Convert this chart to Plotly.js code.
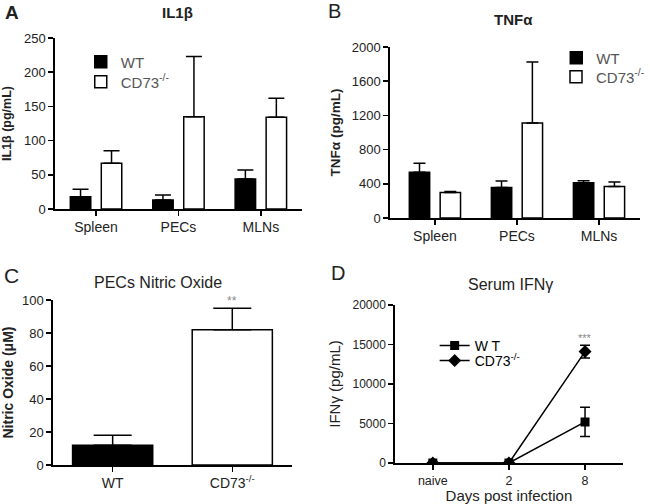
<!DOCTYPE html>
<html><head><meta charset="utf-8">
<script src="https://cdn.plot.ly/plotly-3.0.1.min.js"></script>
<style>html,body{margin:0;padding:0;background:#fff}#chart{width:650px;height:504px}</style>
</head><body><div id="chart"></div>
<script>
// ---- data ----
const tissues = ['Spleen', 'PECs', 'MLNs'];
const il1bWT = [18, 13, 44];
const il1bWTErr = [11, 7.5, 13];
const il1bKO = [67, 135, 134];
const il1bKOErr = [18, 88, 28];
const tnfWT = [534, 358, 412];
const tnfWTErr = [106, 74, 23];
const tnfKO = [299, 1111, 369];
const tnfKOErr = [12, 714, 51];
const noGroups = ['WT', 'CD73<sup>-/-</sup>'];
const noVals = [12, 82];
const noErr = [6, 13];
const days = ['naive', '2', '8'];
const ifnWT = [0, 0, 5200];
const ifnWTErr = [0, 0, 1850];
const ifnKO = [0, 0, 14100];
const ifnKOErr = [0, 0, 800];
const seriesNames = ['WT', 'CD73<sup>-/-</sup>'];
const dWTName = 'W T';

const W = 650, H = 504;
const px = v => v / W;
const py = v => 1 - v / H;
const FONT = 'Liberation Sans, Arial, sans-serif';

const errStyle = (arr, w, sym) => ({
  type: 'data', array: arr, arrayminus: sym ? arr : arr.map(() => 0), symmetric: !!sym,
  color: '#000', thickness: 1.5, width: w, visible: true
});

const traces = [
  // Panel A
  {type: 'bar', x: tissues, y: il1bWT, name: seriesNames[0], xaxis: 'x', yaxis: 'y', legend: 'legend',
   marker: {color: '#000', line: {color: '#000', width: 1.5}}, error_y: errStyle(il1bWTErr, 8)},
  {type: 'bar', x: tissues, y: il1bKO, name: seriesNames[1], xaxis: 'x', yaxis: 'y', legend: 'legend2',
   marker: {color: '#fff', line: {color: '#000', width: 1.5}}, error_y: errStyle(il1bKOErr, 8)},
  // Panel B
  {type: 'bar', x: tissues, y: tnfWT, name: seriesNames[0], xaxis: 'x2', yaxis: 'y2', legend: 'legend3',
   marker: {color: '#000', line: {color: '#000', width: 1.5}}, error_y: errStyle(tnfWTErr, 6)},
  {type: 'bar', x: tissues, y: tnfKO, name: seriesNames[1], xaxis: 'x2', yaxis: 'y2', legend: 'legend4',
   marker: {color: '#fff', line: {color: '#000', width: 1.5}}, error_y: errStyle(tnfKOErr, 6)},
  // Panel C
  {type: 'bar', x: noGroups, y: noVals, xaxis: 'x3', yaxis: 'y3', showlegend: false, width: 0.67,
   marker: {color: ['#000', '#fff'], line: {color: '#000', width: 1.5}}, error_y: errStyle(noErr, 19)},
  // Panel D
  {type: 'scatter', mode: 'lines+markers', x: days, y: ifnWT, name: dWTName, xaxis: 'x4', yaxis: 'y4', legend: 'legend5',
   line: {color: '#000', width: 1.5}, marker: {symbol: 'square', size: 9, color: '#000'},
   error_y: errStyle(ifnWTErr, 5, true)},
  {type: 'scatter', mode: 'lines+markers', x: days, y: ifnKO, name: seriesNames[1], xaxis: 'x4', yaxis: 'y4', legend: 'legend6',
   line: {color: '#000', width: 1.5}, marker: {symbol: 'diamond', size: 10, color: '#000'},
   error_y: errStyle(ifnKOErr, 5, true)}
];

const ax = (extra) => Object.assign({
  showline: true, linecolor: '#000', linewidth: 1.5, ticks: 'outside', ticklen: 5, tickwidth: 1.5,
  tickcolor: '#000', showgrid: false, zeroline: false, fixedrange: true, automargin: false,
  tickfont: {size: 13, color: '#222', family: FONT}
}, extra);

const leg = (x, y, size, color) => ({
  x: px(x), y: py(y), xanchor: 'left', yanchor: 'middle', bgcolor: 'rgba(0,0,0,0)',
  borderwidth: 0, font: {size: size, color: color, family: FONT}, itemclick: false, itemdoubleclick: false
});

const ann = (text, x, y, size, opts) => Object.assign({
  text: text, x: px(x), y: py(y), xref: 'paper', yref: 'paper', showarrow: false,
  xanchor: 'center', yanchor: 'middle', font: {size: size, color: '#222', family: FONT}
}, opts || {});

const layout = {
  width: W, height: H, autosize: false,
  margin: {l: 0, r: 0, t: 0, b: 0},
  paper_bgcolor: '#fff', plot_bgcolor: '#fff',
  font: {family: FONT, color: '#222'},
  barmode: 'group', bargap: 0.248, bargroupgap: 0.34,
  xaxis: ax({domain: [px(55), px(303)], anchor: 'y', type: 'category', range: [-0.5, 2.5], tickfont: {size: 14, color: '#222', family: FONT}}),
  yaxis: ax({domain: [py(209), py(38)], anchor: 'x', range: [0, 250], dtick: 50,
    title: {text: '<b>IL1β (pg/mL)</b>', standoff: 9, font: {size: 12.5, color: '#222', family: FONT}}}),
  xaxis2: ax({domain: [px(391), px(642)], anchor: 'y2', type: 'category', range: [-0.55, 2.5], tickfont: {size: 14, color: '#222', family: FONT}}),
  yaxis2: ax({domain: [py(218), py(47)], anchor: 'x2', range: [0, 2000], dtick: 400, tickformat: 'd', tickfont: {size: 13, color: '#222', family: FONT},
    title: {text: '<b>TNFα (pg/mL)</b>', standoff: 8, font: {size: 13.5, color: '#222', family: FONT}}}),
  xaxis3: ax({domain: [px(53), px(293)], anchor: 'y3', type: 'category', range: [-0.5, 1.5], tickfont: {size: 14, color: '#222', family: FONT}}),
  yaxis3: ax({domain: [py(465), py(300)], anchor: 'x3', range: [0, 100], dtick: 20, tickfont: {size: 13, color: '#222', family: FONT},
    title: {text: '<b>Nitric Oxide (μM)</b>', standoff: 5, font: {size: 14, color: '#222', family: FONT}}}),
  xaxis4: ax({domain: [px(396), px(625)], anchor: 'y4', type: 'category', range: [-0.5, 2.5], tickfont: {size: 12.5, color: '#222', family: FONT},
    title: {text: 'Days post infection', standoff: 10, font: {size: 15, color: '#222', family: FONT}}}),
  yaxis4: ax({domain: [py(463), py(305)], anchor: 'x4', range: [0, 20000], dtick: 5000, tickformat: 'd', tickfont: {size: 12, color: '#222', family: FONT},
    title: {text: 'IFNγ (pg/mL)', standoff: 8, font: {size: 15, color: '#222', family: FONT}}}),
  legend: leg(81, 62, 15, '#555'),
  legend2: leg(81, 82, 15, '#555'),
  legend3: leg(558, 58, 15, '#555'),
  legend4: leg(558, 77, 15, '#555'),
  legend5: leg(436, 346, 14, '#000'),
  legend6: leg(436, 361, 14, '#000'),
  annotations: [
    ann('<b>A</b>', 3, 12, 19, {xanchor: 'left'}),
    ann('B', 327, 11, 20, {xanchor: 'left'}),
    ann('C', 2, 275, 21, {xanchor: 'left'}),
    ann('D', 330, 273, 20, {xanchor: 'left'}),
    ann('<b>IL1β</b>', 178, 12, 15),
    ann('<b>TNFα</b>', 515, 20, 15),
    ann('PECs Nitric Oxide', 158, 282, 16),
    ann('Serum IFNγ', 512, 284, 16),
    {text: '**', x: 1, y: 95, xref: 'x3', yref: 'y3', showarrow: false, yanchor: 'bottom', yshift: -2,
     font: {size: 12, color: '#888', family: FONT}},
    {text: '***', x: 2, y: 14900, xref: 'x4', yref: 'y4', showarrow: false, yanchor: 'bottom', yshift: -1,
     font: {size: 11, color: '#888', family: FONT}}
  ]
};

Plotly.newPlot('chart', traces, layout, {displayModeBar: false, staticPlot: true});
</script>
</body></html>
